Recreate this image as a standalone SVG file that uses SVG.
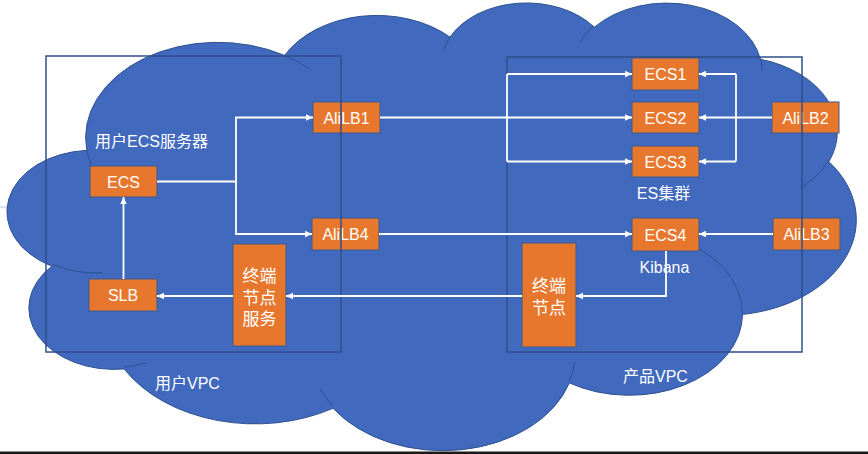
<svg xmlns="http://www.w3.org/2000/svg" width="868" height="454" viewBox="0 0 868 454">
<style>
.cloud{fill:#4169BE;stroke:#2F528F;stroke-width:1}
.cloudin{fill:none;stroke:#2F528F;stroke-width:1}
.vpc{fill:none;stroke:#2F4F8C;stroke-width:1.5}
.node rect{fill:#E8772E;stroke:#3E5A8C;stroke-width:1}
.nt{fill:#FFFFFF;font-family:"Liberation Sans","Noto Sans CJK SC",sans-serif;font-size:16px;text-anchor:middle}
.cj{fill:#FFFFFF;font-family:"Liberation Sans","Noto Sans CJK SC",sans-serif;font-size:17px;text-anchor:middle}
.lbl{fill:#FFFFFF;font-family:"Liberation Sans","Noto Sans CJK SC",sans-serif;font-size:16px}
.conn path{fill:none;stroke:#FFFFFF;stroke-width:1.8}
.arr{marker-end:url(#ah)}
</style>
<defs>
<marker id="ah" markerUnits="userSpaceOnUse" markerWidth="8" markerHeight="8" refX="7" refY="4" orient="auto">
<path d="M0,0.8 L7,4 L0,7.2 z" fill="#FFFFFF"/>
</marker>
</defs>
<rect x="0" y="0" width="868" height="454" fill="#FFFFFF"/>
<line x1="0" y1="207" x2="12" y2="207" stroke="#B8C4DE" stroke-width="1"/>
<g id="cloud" transform="translate(10.5,1.5) scale(0.01957,0.01036)">
<path class="cloud" vector-effect="non-scaling-stroke" d="M3900 14370 A6753 9190 0 0 1 14005 5202 A5333 7267 0 0 1 22456 3432 A4365 5945 0 0 1 29833 2481 A4857 6595 0 0 1 38318 5576 A5333 7273 0 0 1 41819 15460 A6775 9220 0 0 1 37405 30203 A5785 7867 0 0 1 28556 36813 A6752 9215 0 0 1 16481 39264 A7720 10543 0 0 1 5805 35470 A4360 5918 0 0 1 2114 25548 A4345 5945 0 0 1 3900 14370 Z"/>
<path class="cloudin" vector-effect="non-scaling-stroke" d="M4693 26177 A4345 5945 0 0 1 2160 25380 M6928 34899 A4360 5918 0 0 1 5820 35281 M16478 39090 A6752 9215 0 0 1 15810 37350 M28827 34751 A6752 9215 0 0 1 28560 36660 M34129 22954 A5785 7867 0 0 1 37381 30090 M41798 15354 A5333 7273 0 0 1 40350 18030 M38324 5426 A4857 6595 0 0 1 38400 6690 M29078 3952 A4857 6595 0 0 1 29820 2340 M22141 4720 A4365 5945 0 0 1 22500 3330 M14000 5192 A6753 9190 0 0 1 15300 6540 M4127 15789 A6753 9190 0 0 1 3900 14370"/>
</g>
<g id="n-ecs" class="node"><rect x="90" y="166" width="67" height="31"/><text class="nt" x="123.5" y="187.5">ECS</text></g>
<g id="n-slb" class="node"><rect x="89" y="279" width="68" height="32"/><text class="nt" x="123" y="301">SLB</text></g>
<g id="n-alilb1" class="node"><rect x="313" y="102" width="67" height="31"/><text class="nt" x="346.5" y="123.5">AliLB1</text></g>
<g id="n-alilb4" class="node"><rect x="312" y="218" width="67" height="32"/><text class="nt" x="345.5" y="240">AliLB4</text></g>
<g id="n-endpoint-svc" class="node"><rect x="233" y="244" width="53" height="102"/><text class="cj" x="259.5" y="281.5">终端</text><text class="cj" x="259.5" y="303.5">节点</text><text class="cj" x="259.5" y="324.5">服务</text></g>
<g id="n-ecs1" class="node"><rect x="632" y="58" width="67" height="32"/><text class="nt" x="665.5" y="80">ECS1</text></g>
<g id="n-ecs2" class="node"><rect x="632" y="102" width="67" height="31"/><text class="nt" x="665.5" y="123.5">ECS2</text></g>
<g id="n-ecs3" class="node"><rect x="632" y="146" width="67" height="31"/><text class="nt" x="665.5" y="167.5">ECS3</text></g>
<g id="n-alilb2" class="node"><rect x="772" y="102" width="67" height="31"/><text class="nt" x="805.5" y="123.5">AliLB2</text></g>
<g id="n-ecs4" class="node"><rect x="632" y="218" width="67" height="33"/><text class="nt" x="665.5" y="240.5">ECS4</text></g>
<g id="n-alilb3" class="node"><rect x="773" y="218" width="67" height="32"/><text class="nt" x="806.5" y="240">AliLB3</text></g>
<g id="n-endpoint" class="node"><rect x="522" y="243" width="54" height="104"/><text class="cj" x="549" y="291.5">终端</text><text class="cj" x="549" y="313.5">节点</text></g>
<g id="vpc-user"><rect class="vpc" x="46" y="56" width="295" height="296"/></g>
<g id="vpc-product"><rect class="vpc" x="507" y="57" width="295" height="295"/></g>
<g id="labels">
<text class="lbl" x="95" y="147">用户ECS服务器</text>
<text class="lbl" x="663.5" y="199" text-anchor="middle">ES集群</text>
<text class="lbl" x="664.5" y="273" text-anchor="middle">Kibana</text>
<text class="lbl" x="155" y="389">用户VPC</text>
<text class="lbl" x="623" y="382">产品VPC</text>
</g>
<g id="connectors" class="conn">
<path class="arr" d="M157,181.5 H236 V117.5 H313"/>
<path class="arr" d="M236,181.5 V234 H312"/>
<path class="arr" d="M380,117.5 H632"/>
<path d="M507,74 V161.5"/>
<path class="arr" d="M507,74 H632"/>
<path class="arr" d="M507,161.5 H632"/>
<path class="arr" d="M772,117.5 H699"/>
<path d="M736,74 V161.5"/>
<path class="arr" d="M736,74 H699"/>
<path class="arr" d="M736,161.5 H699"/>
<path class="arr" d="M379,234 H632"/>
<path class="arr" d="M773,234 H699"/>
<path class="arr" d="M666,251 V296 H576"/>
<path class="arr" d="M522,296 H286"/>
<path class="arr" d="M233,296 H157"/>
<path class="arr" d="M123.5,279 V197"/>
</g>
<rect x="0" y="451.5" width="868" height="2.5" fill="#1A1A1A"/>
</svg>
